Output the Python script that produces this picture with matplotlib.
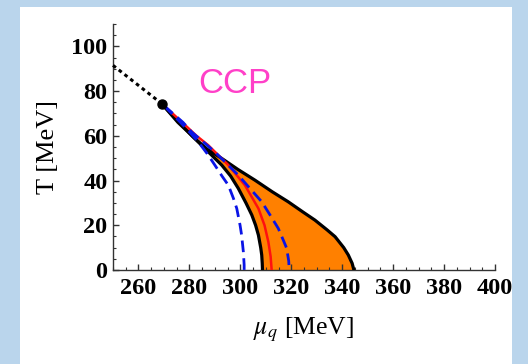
import numpy as np
import matplotlib.pyplot as plt
from matplotlib.patches import Rectangle
from matplotlib.ticker import MultipleLocator

# curves: mu_q [MeV] vs T [MeV]
outer_T = [74.4, 66, 58.8, 54, 49.9, 45, 40.2, 35, 30.5, 26, 22.3, 18, 14.9, 10, 6.7, 3, 0]
outer_mu = [269.1, 275.5, 282.2, 287, 292.7, 299, 305.7, 312.5, 318.8, 324.5, 329.3, 334, 337.2, 340.6, 342.4, 343.9, 344.6]

inner_T = [74.4, 66, 60, 54.3, 46.9, 42, 36.5, 30, 24.6, 20, 15.6, 10, 6.7, 3, 0]
inner_mu = [269.1, 276, 281, 286.1, 292.7, 296.2, 299.2, 302.2, 304.5, 306, 307.1, 308, 308.4, 308.6, 308.7]

red_T = [73.5, 66.2, 60, 55.8, 46.9, 37.9, 27.5, 20, 12.6, 6, 0]
red_mu = [270, 277, 282.8, 287.4, 295.3, 301.8, 307.1, 309.5, 311, 311.9, 312.3]

blue_in_T = [73.5, 66, 61.5, 57.3, 52, 46.9, 42, 37.9, 32, 27.5, 20, 15.6, 8, 2.2, 0]
blue_in_mu = [270, 276.5, 280.2, 283.5, 287, 290, 292.8, 295.3, 297.3, 298.6, 299.9, 300.5, 301.2, 301.5, 301.5]

blue_out_T = [73.5, 66, 61.7, 52.8, 42.4, 30.5, 24, 18.6, 13, 9.7, 4, 0]
blue_out_mu = [270, 277.5, 280.9, 290, 299.2, 308.4, 312, 314.9, 317, 318.2, 319, 319.2]

dotted_mu = [250, 269.1]
dotted_T = [91.5, 74.4]

ccp_mu, ccp_T = 269.1, 74.4

plt.rcParams['mathtext.fontset'] = 'stix'

fig = plt.figure(figsize=(5.28, 3.64), dpi=100)
fig.patch.set_facecolor('#BAD5EC')
fig.patches.append(Rectangle((20 / 528, 0), 492 / 528, 357 / 364, transform=fig.transFigure,
                             facecolor='white', edgecolor='none', zorder=-10))

ax = fig.add_axes([113 / 528, 1 - 270 / 364, 382 / 528, 246 / 364])
ax.patch.set_visible(False)

# orange region between the two black curves
poly_mu = outer_mu + inner_mu[::-1]
poly_T = outer_T + inner_T[::-1]
ax.fill(poly_mu, poly_T, color='#FF8000', lw=0, zorder=1)

ax.plot(outer_mu, outer_T, color='black', lw=2.3, zorder=3)
ax.plot(inner_mu, inner_T, color='black', lw=2.3, zorder=3)
ax.plot(red_mu, red_T, color='#FF1010', lw=1.8, zorder=4)
ax.plot(blue_in_mu, blue_in_T, color='#0A14E6', lw=2.0, dashes=(4.2, 2.2), zorder=5)
ax.plot(blue_out_mu, blue_out_T, color='#0A14E6', lw=2.0, dashes=(4.2, 2.2), zorder=5)
ax.plot(dotted_mu, dotted_T, color='black', lw=2.2, linestyle=(0, (1.2, 1.2)), zorder=3, clip_on=False)
ax.plot([ccp_mu], [ccp_T], 'o', color='black', ms=6.5, zorder=6)

ax.text(298, 83.5, 'CCP', color='#FF40C8', fontsize=25, family='Liberation Sans',
        ha='center', va='center')

ax.set_xlim(250, 400)
ax.set_ylim(0, 110)
for s in ['top', 'right']:
    ax.spines[s].set_visible(False)
for s in ['left', 'bottom']:
    ax.spines[s].set_color('#333333')
    ax.spines[s].set_linewidth(1.0)

ax.set_xticks([260, 280, 300, 320, 340, 360, 380, 400])
ax.set_yticks([0, 20, 40, 60, 80, 100])
ax.xaxis.set_minor_locator(MultipleLocator(5))
ax.yaxis.set_minor_locator(MultipleLocator(5))
ax.tick_params(which='major', direction='in', length=4, width=1, color='#333333')
ax.tick_params(which='minor', direction='in', length=2.3, width=0.8, color='#333333')
ax.tick_params(axis='x', pad=6)
ax.tick_params(axis='y', pad=4)
for lab in ax.get_xticklabels() + ax.get_yticklabels():
    lab.set_family('Liberation Serif')
    lab.set_fontweight('bold')
    lab.set_fontsize(17.5)

ax.set_xlabel(r'$\mu_q$ [MeV]', family='Liberation Serif', fontsize=18.5, labelpad=12)
ax.set_ylabel('T [MeV]', family='Liberation Serif', fontsize=19, labelpad=9)

fig.savefig('out.png', dpi=100)
